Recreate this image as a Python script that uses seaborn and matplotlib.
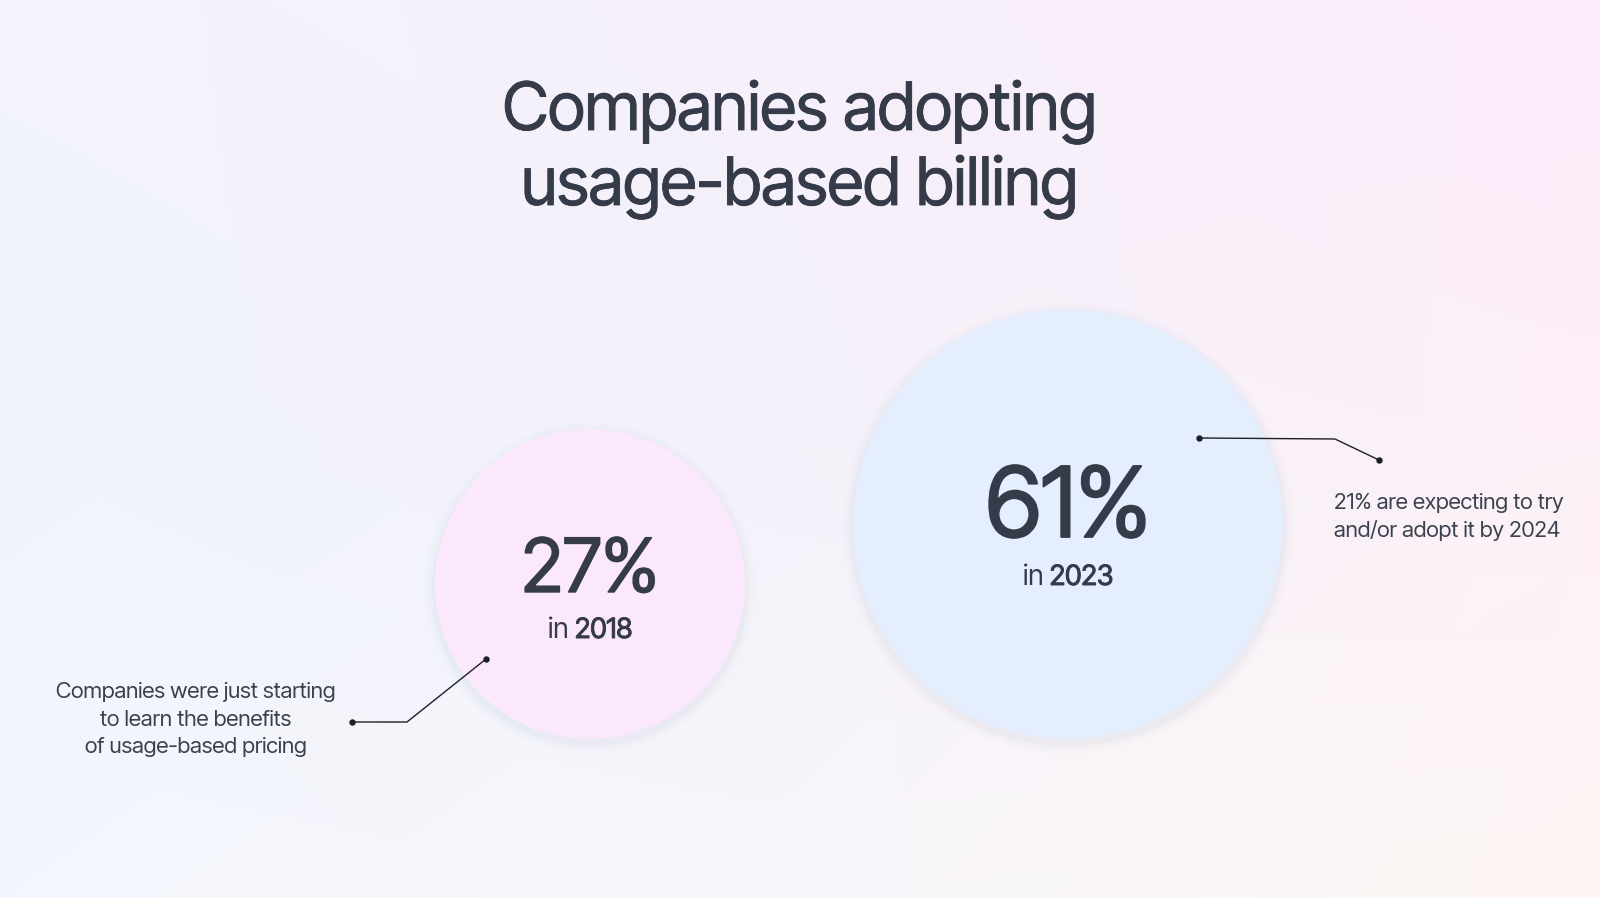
import numpy as np
import pandas as pd
import matplotlib
matplotlib.use("Agg")
import matplotlib.pyplot as plt
from matplotlib import font_manager as fm
from matplotlib import patheffects as pe
from matplotlib.colors import to_rgb
import seaborn as sns

# ---------------- data ----------------
years = [2018, 2023]
shares = [27, 61]
share_labels = ["27%", "61%"]
year_labels = ["2018", "2023"]
circle_colors = ["#fbe8fc", "#e4eefd"]
title_lines = ["Companies adopting", "usage-based billing"]
note_left = ["Companies were just starting", "to learn the benefits", "of usage-based pricing"]
note_right = ["21% are expecting to try", "and/or adopt it by 2024"]

# ---------------- style ----------------
sns.set_theme(style="white")
names = set(f.name for f in fm.fontManager.ttflist)
FAM = "Inter Tight" if "Inter Tight" in names else "Inter"
plt.rcParams["font.family"] = [FAM, "DejaVu Sans"]
INK = "#353b49"
INK2 = "#3b404e"


def heavy(lw, color=INK):
    return [pe.withStroke(linewidth=lw, foreground=color)]


W, H = 1600, 898
fig = plt.figure(figsize=(W / 100, H / 100), dpi=100)
ax = fig.add_axes([0, 0, 1, 1])
ax.set_xlim(0, W)
ax.set_ylim(H, 0)
ax.axis("off")
renderer = fig.canvas.get_renderer()

# ---------------- background gradient ----------------
grid = [["#f3f4fb", "#f6f0fb", "#fcecfb"],
        ["#eff4fc", "#f4f1fa", "#fdf0f8"],
        ["#f3f7fd", "#f8f6fb", "#fef7f4"]]
g = np.array([[to_rgb(c) for c in row] for row in grid])
ny, nx = 90, 160
yy = np.linspace(0, 2, ny)
xx = np.linspace(0, 2, nx)
rows = np.empty((3, nx, 3))
for i in range(3):
    for ch in range(3):
        rows[i, :, ch] = np.interp(xx, [0, 1, 2], g[i, :, ch])
img = np.empty((ny, nx, 3))
for j in range(nx):
    for ch in range(3):
        img[:, j, ch] = np.interp(yy, [0, 1, 2], rows[:, j, ch])
ax.imshow(img, extent=(0, W, H, 0), aspect="auto", interpolation="bicubic", zorder=0)

# ---------------- bubbles ----------------
BASE = 739.0            # common bottom line of the bubbles (px)
R_MIN, R_MAX = 155.0, 215.0
X0, DX = 590.0, 95.6    # x of first year, px per year


def s_from_r(r):
    return (2 * r * 72 / 100) ** 2


df = pd.DataFrame({"year": years, "share": shares})
df["r"] = R_MIN + (df["share"] - min(shares)) / (max(shares) - min(shares)) * (R_MAX - R_MIN)
df["x"] = X0 + (df["year"] - years[0]) * DX
df["y"] = BASE - df["r"]
df["ys"] = df["y"] + 4

# soft shadow
for grow, a in [(10, 0.025), (6, 0.035), (3, 0.05)]:
    sns.scatterplot(data=df, x="x", y="ys", size="share",
                    sizes=(s_from_r(R_MIN + grow), s_from_r(R_MAX + grow)),
                    color="#9aa0b4", alpha=a, linewidth=0, legend=False, ax=ax, zorder=1)
sns.scatterplot(data=df, x="x", y="y", size="share", hue="year",
                sizes=(s_from_r(R_MIN), s_from_r(R_MAX)),
                palette=dict(zip(years, circle_colors)),
                linewidth=0, alpha=1, legend=False, ax=ax, zorder=2)
ax.set_xlim(0, W)
ax.set_ylim(H, 0)
ax.axis("off")


# ---------------- text helpers ----------------
def measure(text, size):
    t = ax.text(0, 0, text, fontsize=size, family=FAM, alpha=0)
    w = t.get_window_extent(renderer).width
    t.remove()
    return w


def fit_size(text, target_w, target_cap, mix=0.5):
    size_h = target_cap / 0.727 * 0.72
    w = measure(text, size_h)
    size_w = size_h * target_w / w
    return size_h ** (1 - mix) * size_w ** mix


# title
ts = fit_size(title_lines[0], 580, 50, 0.55)
for line, base in zip(title_lines, [130, 205]):
    ax.text(800, base, line, ha="center", va="baseline", fontsize=ts,
            family=FAM, color=INK, zorder=5, path_effects=heavy(0.6))

# big percentages + year labels
pct_targets = [(136, 55, 592, 1.0), (158, 74, 537, 1.3)]
yr_base = [638, 585]
ys_ = fit_size("in 2023", 92, 20, 0.5)
for i, row in df.iterrows():
    tw, tc, b, lw = pct_targets[i]
    ps = fit_size(share_labels[i], tw, tc, 0.5)
    ax.text(row["x"], b, share_labels[i], ha="center", va="baseline",
            fontsize=ps, family=FAM, color=INK, zorder=5, path_effects=heavy(lw))
    w1 = measure("in ", ys_)
    w2 = measure(year_labels[i], ys_)
    left = row["x"] - (w1 + w2) / 2
    ax.text(left, yr_base[i], "in ", ha="left", va="baseline", fontsize=ys_,
            family=FAM, color=INK, zorder=5)
    ax.text(left + w1, yr_base[i], year_labels[i], ha="left", va="baseline",
            fontsize=ys_, family=FAM, color=INK, zorder=5, path_effects=heavy(0.7))

# annotations
ns = fit_size(note_left[0], 285, 15, 0.8)
for line, base in zip(note_left, [698, 725.5, 753]):
    ax.text(195.5, base, line, ha="center", va="baseline", fontsize=ns,
            family=FAM, color=INK2, zorder=5)
for line, base in zip(note_right, [509, 537]):
    ax.text(1334, base, line, ha="left", va="baseline", fontsize=ns,
            family=FAM, color=INK2, zorder=5)

# connector lines
ax.plot([352, 407, 486], [722, 722, 659], color="#1e1f26", lw=1.0, zorder=6,
        solid_capstyle="round", solid_joinstyle="round")
ax.plot([352, 486], [722, 659], "o", color="#1e1f26", ms=3.6, zorder=7)
ax.plot([1199, 1335, 1379], [438, 439, 460], color="#1e1f26", lw=1.0, zorder=6,
        solid_capstyle="round", solid_joinstyle="round")
ax.plot([1199, 1379], [438, 460], "o", color="#1e1f26", ms=3.6, zorder=7)

fig.savefig("out.png", dpi=100)
